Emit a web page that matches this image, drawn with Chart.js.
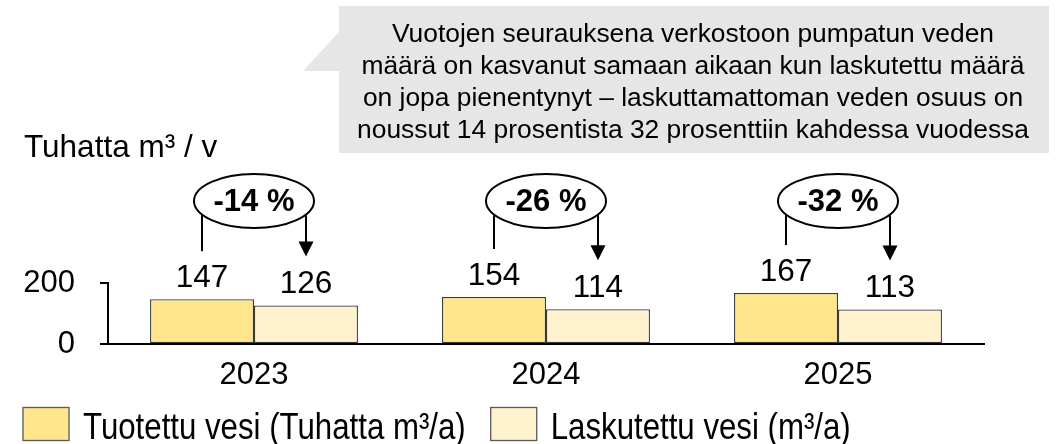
<!DOCTYPE html>
<html>
<head>
<meta charset="utf-8">
<script src="https://cdn.jsdelivr.net/npm/chart.js@4.4.1/dist/chart.umd.min.js"></script>
<style>
    html, body { margin: 0; padding: 0; background: #fff; }
    #wrap { width: 1056px; height: 444px; }
</style>
</head>
<body>
<div id="wrap"><canvas id="myChart"></canvas></div>
<script>
"use strict";

const years = ['2023', '2024', '2025'];
const producedWater = [147, 154, 167];
const billedWater = [126, 114, 113];
const changeLabels = ['-14 %', '-26 %', '-32 %'];
const seriesNames = ['Tuotettu vesi (Tuhatta m³/a)', 'Laskutettu vesi (m³/a)'];
const yTickValues = [0, 200];
const unitTitle = 'Tuhatta m³ / v';
const calloutLines = [
    'Vuotojen seurauksena verkostoon pumpatun veden',
    'määrä on kasvanut samaan aikaan kun laskutettu määrä',
    'on jopa pienentynyt – laskuttamattoman veden osuus on',
    'noussut 14 prosentista 32 prosenttiin kahdessa vuodessa'
];

const FONT = '"Liberation Sans", Arial, sans-serif';
const barColors = ['#FFE68C', '#FFF3CF'];

// labels, arrows, callout and legend drawn on top of the bars
const overlayPlugin = {
    id: 'overlay',
    afterDatasetsDraw(chart) {
        const ctx = chart.ctx;
        const metaA = chart.getDatasetMeta(0);
        const metaB = chart.getDatasetMeta(1);
        ctx.save();

        ctx.fillStyle = '#000';
        ctx.font = `31.5px ${FONT}`;
        ctx.textAlign = 'center';
        ctx.textBaseline = 'alphabetic';
        chart.data.datasets.forEach((ds, i) => {
            chart.getDatasetMeta(i).data.forEach((bar, j) => {
                ctx.fillText(ds.data[j], bar.x, bar.y - 12.5);
            });
        });

        metaA.data.forEach((barA, j) => {
            const barB = metaB.data[j];
            const cx = (barA.x + barB.x) / 2;
            const cy = 201, rx = 60, ry = 27;
            ctx.strokeStyle = '#000';
            ctx.lineWidth = 2;
            ctx.beginPath();
            ctx.ellipse(cx, cy, rx, ry, 0, 0, Math.PI * 2);
            ctx.stroke();

            const dy = ry * Math.sqrt(Math.max(0, 1 - ((barA.x - cx) / rx) ** 2));
            ctx.beginPath();
            ctx.moveTo(barA.x, cy + dy);
            ctx.lineTo(barA.x, barA.y - 48);
            ctx.stroke();

            const tipY = barB.y - 49;
            ctx.beginPath();
            ctx.moveTo(barB.x, cy + dy);
            ctx.lineTo(barB.x, tipY - 14);
            ctx.stroke();
            ctx.beginPath();
            ctx.moveTo(barB.x - 7.5, tipY - 15);
            ctx.lineTo(barB.x + 7.5, tipY - 15);
            ctx.lineTo(barB.x, tipY);
            ctx.closePath();
            ctx.fill();

            ctx.font = `bold 31px ${FONT}`;
            ctx.textBaseline = 'middle';
            ctx.fillText(changeLabels[j], cx, cy + 1);
        });
        ctx.restore();
    },
    afterDraw(chart) {
        const ctx = chart.ctx;
        ctx.save();

        // unit title
        ctx.fillStyle = '#000';
        ctx.font = `31.5px ${FONT}`;
        ctx.textAlign = 'left';
        ctx.textBaseline = 'alphabetic';
        ctx.fillText(unitTitle, 24, 157);

        // callout bubble
        ctx.fillStyle = '#E7E6E6';
        ctx.beginPath();
        ctx.moveTo(339, 6);
        ctx.lineTo(1049, 6);
        ctx.lineTo(1049, 153);
        ctx.lineTo(339, 153);
        ctx.lineTo(339, 71);
        ctx.lineTo(303, 71);
        ctx.lineTo(339, 32);
        ctx.closePath();
        ctx.fill();

        ctx.fillStyle = '#000';
        ctx.font = `26.4px ${FONT}`;
        ctx.textAlign = 'center';
        calloutLines.forEach((line, i) => {
            ctx.fillText(line, 693, 42.3 + i * 32);
        });

        // legend (text is a bit narrow in the original)
        const squeeze = 0.855;
        ctx.font = `36.5px ${FONT}`;
        ctx.textAlign = 'left';
        let x = 23;
        chart.data.datasets.forEach(ds => {
            ctx.fillStyle = ds.backgroundColor;
            ctx.fillRect(x, 407.5, 46, 33);
            ctx.strokeStyle = '#595959';
            ctx.lineWidth = 1.3;
            ctx.strokeRect(x, 407.5, 46, 33);
            ctx.fillStyle = '#000';
            ctx.save();
            ctx.translate(x + 60, 439.3);
            ctx.scale(squeeze, 1);
            ctx.fillText(ds.label, 0, 0);
            ctx.restore();
            x += 60 + ctx.measureText(ds.label).width * squeeze + 25;
        });
        ctx.restore();
    }
};

window.addEventListener('load', () => {
    const ctx = document.getElementById('myChart').getContext('2d');
    new Chart(ctx, {
        type: 'bar',
        data: {
            labels: years,
            datasets: [{
                label: seriesNames[0],
                data: producedWater,
                backgroundColor: barColors[0],
                borderColor: '#3a3a3a',
                borderWidth: 1.3,
                borderSkipped: false,
                categoryPercentage: 0.712,
                barPercentage: 1
            }, {
                label: seriesNames[1],
                data: billedWater,
                backgroundColor: barColors[1],
                borderColor: '#3a3a3a',
                borderWidth: 1.3,
                borderSkipped: false,
                categoryPercentage: 0.712,
                barPercentage: 1
            }]
        },
        options: {
            responsive: true,
            maintainAspectRatio: false,
            animation: false,
            layout: {
                padding: { left: 23, right: 72, top: 283, bottom: 49 }
            },
            plugins: {
                legend: { display: false },
                tooltip: { enabled: false }
            },
            scales: {
                x: {
                    afterFit: axis => {
                        axis.height = 51;
                    },
                    grid: { display: false, drawTicks: false },
                    border: { display: true, color: '#000', width: 2 },
                    ticks: {
                        color: '#000',
                        font: { family: FONT, size: 31 },
                        padding: 13
                    }
                },
                y: {
                    min: 0,
                    max: 200,
                    afterBuildTicks: axis => {
                        axis.ticks = yTickValues.map(v => ({ value: v }));
                    },
                    afterFit: axis => {
                        axis.width = 85;
                    },
                    grid: {
                        display: true,
                        drawOnChartArea: false,
                        drawTicks: true,
                        tickLength: 8,
                        lineWidth: 2,
                        color: '#000'
                    },
                    border: { display: true, color: '#000', width: 2 },
                    ticks: {
                        color: '#000',
                        font: { family: FONT, size: 31 },
                        padding: 25
                    }
                }
            }
        },
        plugins: [overlayPlugin]
    });
});
</script>
</body>
</html>
